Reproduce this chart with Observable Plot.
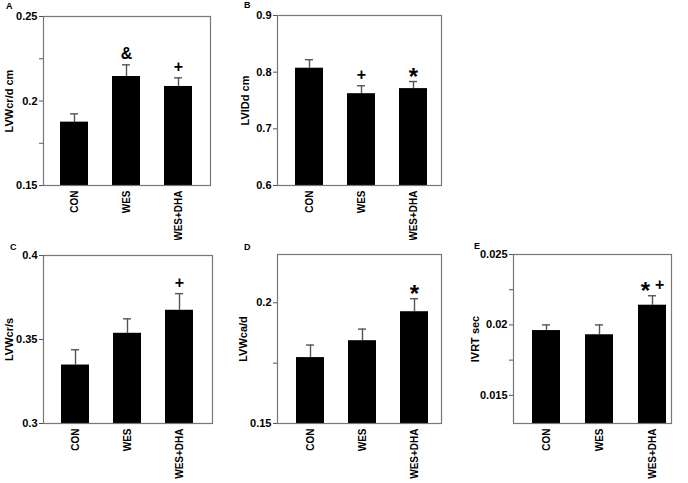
<!DOCTYPE html>
<html>
<head>
<meta charset="utf-8">
<script src="https://cdn.jsdelivr.net/npm/d3@7"></script>
<script src="https://cdn.jsdelivr.net/npm/@observablehq/plot@0.6"></script>
<style>
  html, body { margin: 0; padding: 0; background: #fff; }
  #wrap { position: relative; width: 688px; height: 483px; background: #fff; overflow: hidden;
          font-family: "Liberation Sans", Arial, sans-serif; }
  #wrap > div.panel { position: absolute; }
  .letter { position: absolute; font-size: 9px; font-weight: bold; color: #000; }
  svg text { font-weight: bold; }
</style>
</head>
<body>
<div id="wrap"></div>
<script>
const groups = ["CON", "WES", "WES+DHA"];

// Panel A: LVWcr/d cm
const lvwcrdMean = [0.1875, 0.2145, 0.2086];
const lvwcrdErr  = [0.0049, 0.0069, 0.0051];
const lvwcrdMarks = ["", "&", "+"];
const lvwcrdTicks = [0.15, 0.2, 0.25];
const lvwcrdMinor = [0.175, 0.225];

// Panel B: LVIDd cm
const lviddMean = [0.807, 0.762, 0.771];
const lviddErr  = [0.015, 0.014, 0.0125];
const lviddMarks = ["", "+", "*"];
const lviddTicks = [0.6, 0.7, 0.8, 0.9];
const lviddMinor = [];

// Panel C: LVWcr/s
const lvwcrsMean = [0.3348, 0.3537, 0.3674];
const lvwcrsErr  = [0.0091, 0.0086, 0.0099];
const lvwcrsMarks = ["", "", "+"];
const lvwcrsTicks = [0.3, 0.35, 0.4];
const lvwcrsMinor = [];

// Panel D: LVWca/d
const lvwcadMean = [0.1773, 0.1843, 0.1963];
const lvwcadErr  = [0.0052, 0.0048, 0.0054];
const lvwcadMarks = ["", "", "*"];
const lvwcadTicks = [0.15, 0.2];
const lvwcadMinor = [0.175];

// Panel E: IVRT sec
const ivrtMean = [0.0196, 0.0193, 0.0214];
const ivrtErr  = [0.0004, 0.0007, 0.00067];
const ivrtMarks = ["", "", "*+"];
const ivrtTicks = [0.015, 0.02, 0.025];
const ivrtMinor = [0.0175, 0.0225];

const panels = [
  {letter: "A", label: "LVWcr/d cm", mean: lvwcrdMean, err: lvwcrdErr, marks: lvwcrdMarks,
   ticks: lvwcrdTicks, minor: lvwcrdMinor, domain: [0.15, 0.25],
   left: 0, top: 0, width: 230, height: 240, mt: 16, mr: 20, mb: 55, ml: 43,
   po: 0.33, align: 0.48, labelOffset: 38, lx: 6, ly: 1},
  {letter: "B", label: "LVIDd cm", mean: lviddMean, err: lviddErr, marks: lviddMarks,
   ticks: lviddTicks, minor: lviddMinor, domain: [0.6, 0.9],
   left: 230, top: 0, width: 230, height: 240, mt: 15, mr: 19, mb: 55, ml: 47,
   po: 0.29, align: 0.57, labelOffset: 36, lx: 14, ly: 0},
  {letter: "C", label: "LVWcr/s", mean: lvwcrsMean, err: lvwcrsErr, marks: lvwcrsMarks,
   ticks: lvwcrsTicks, minor: lvwcrsMinor, domain: [0.3, 0.4],
   left: 0, top: 240, width: 230, height: 243, mt: 15, mr: 18, mb: 60, ml: 43,
   po: 0.33, align: 0.48, labelOffset: 38, lx: 10, ly: 2},
  {letter: "D", label: "LVWca/d", mean: lvwcadMean, err: lvwcadErr, marks: lvwcadMarks,
   ticks: lvwcadTicks, minor: lvwcadMinor, domain: [0.15, 0.22],
   left: 230, top: 240, width: 230, height: 243, mt: 14, mr: 19, mb: 60, ml: 47,
   po: 0.29, align: 0.58, labelOffset: 38, lx: 14, ly: 2},
  {letter: "E", label: "IVRT sec", mean: ivrtMean, err: ivrtErr, marks: ivrtMarks,
   ticks: ivrtTicks, minor: ivrtMinor, domain: [0.013, 0.025],
   left: 460, top: 240, width: 228, height: 243, mt: 14, mr: 17, mb: 60, ml: 53,
   po: 0.225, align: 0.79, labelOffset: 42, lx: 14, ly: 1}
];

const wrap = document.getElementById("wrap");
const SVGNS = "http://www.w3.org/2000/svg";

for (const p of panels) {
  const data = groups.map((g, i) => ({group: g, mean: p.mean[i], err: p.err[i], top: p.mean[i] + p.err[i], mark: p.marks[i]}));
  const base = p.domain[0];
  const chart = Plot.plot({
    width: p.width,
    height: p.height,
    marginTop: p.mt, marginRight: p.mr, marginBottom: p.mb, marginLeft: p.ml,
    style: {fontFamily: "'Liberation Sans', Arial, sans-serif", fontWeight: "bold", background: "transparent", color: "#000"},
    x: {domain: groups, paddingInner: 0.47, paddingOuter: p.po, align: p.align},
    y: {domain: p.domain},
    marks: [
      Plot.ruleX(data, {x: "group", y1: "mean", y2: "top", stroke: "#555", strokeWidth: 1.4}),
      Plot.tickY(data, {x: "group", y: "top", stroke: "#555", strokeWidth: 1.4, insetLeft: 10, insetRight: 10}),
      Plot.barY(data, {x: "group", y1: () => base, y2: "mean", fill: "#000"}),
      Plot.text(data, {x: "group", y: "top", text: "mark", dy: -11, fontSize: 16, fontWeight: "bold", fill: "#000", className: "sig"}),
      Plot.frame({stroke: "#777", strokeWidth: 1.2}),
      Plot.axisY({ticks: p.ticks, tickFormat: d => String(d), tickSize: 4, tickPadding: 2, fontSize: 11,
                  label: p.label, labelAnchor: "center", labelArrow: "none", labelOffset: p.labelOffset, stroke: "#555"}),
      Plot.axisY({ticks: p.minor, tickFormat: () => "", tickSize: 4, label: null, stroke: "#555"}),
      Plot.axisX({tickRotate: -90, tickSize: 0, tickPadding: 5, fontSize: 10, label: null})
    ]
  });
  // enlarge asterisks in significance marks
  chart.querySelectorAll("g.sig text").forEach(t => {
    const s = t.textContent;
    if (!s.includes("*")) return;
    while (t.firstChild) t.removeChild(t.firstChild);
    let shifted = false;
    for (const ch of s) {
      const ts = document.createElementNS(SVGNS, "tspan");
      ts.textContent = ch;
      if (ch === "*") {
        ts.setAttribute("font-size", "24");
        if (!shifted) { ts.setAttribute("dy", "9"); shifted = true; }
      } else if (shifted) {
        ts.setAttribute("dy", "-9");
        ts.setAttribute("dx", "5");
        shifted = false;
      }
      t.appendChild(ts);
    }
  });
  const holder = document.createElement("div");
  holder.className = "panel";
  holder.style.left = p.left + "px";
  holder.style.top = p.top + "px";
  holder.appendChild(chart);
  wrap.appendChild(holder);
  const letter = document.createElement("div");
  letter.className = "letter";
  letter.textContent = p.letter;
  letter.style.left = (p.left + p.lx) + "px";
  letter.style.top = (p.top + p.ly) + "px";
  wrap.appendChild(letter);
}
</script>
</body>
</html>
